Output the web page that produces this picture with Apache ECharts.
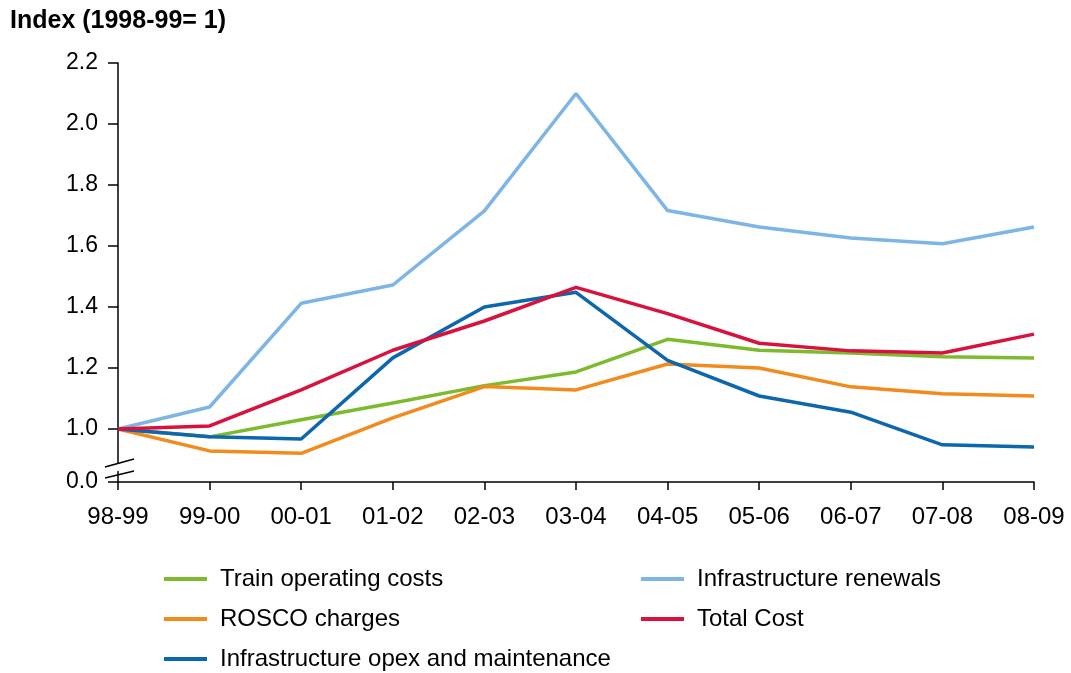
<!DOCTYPE html>
<html>
<head>
<meta charset="utf-8">
<script src="https://cdn.jsdelivr.net/npm/echarts@6/dist/echarts.min.js"></script>
<style>
  html, body { margin: 0; padding: 0; background: #fff; }
  #chart { width: 1071px; height: 673px; }
</style>
</head>
<body>
<div id="chart"></div>
<script>
// Financial years (x axis)
const years = ['98-99', '99-00', '00-01', '01-02', '02-03', '03-04', '04-05', '05-06', '06-07', '07-08', '08-09'];

// Cost indices, 1998-99 = 1
const trainOperating = [1.0, 0.974, 1.03, 1.085, 1.142, 1.187, 1.294, 1.258, 1.249, 1.237, 1.233];
const infraRenewals  = [1.0, 1.072, 1.412, 1.472, 1.715, 2.1, 1.716, 1.662, 1.626, 1.607, 1.662];
const roscoCharges   = [1.0, 0.928, 0.92, 1.036, 1.139, 1.128, 1.213, 1.2, 1.138, 1.115, 1.108];
const totalCost      = [1.0, 1.01, 1.128, 1.258, 1.354, 1.464, 1.378, 1.281, 1.256, 1.249, 1.311];
const infraOpex      = [1.0, 0.974, 0.967, 1.233, 1.4, 1.448, 1.225, 1.108, 1.055, 0.948, 0.941];

// Y axis: the scale is broken below 1.0, so the bottom of the axis stands for 0.0
const yBottom = 0.826;
const yTickValues = [yBottom, 1.0, 1.2, 1.4, 1.6, 1.8, 2.0, 2.2];

const font = 'Liberation Sans, Arial, sans-serif';

const seriesNames = {
  train: 'Train operating costs',
  renewals: 'Infrastructure renewals',
  rosco: 'ROSCO charges',
  total: 'Total Cost',
  opex: 'Infrastructure opex and maintenance'
};

const chart = echarts.init(document.getElementById('chart'));

function lineSeries(name, data, color) {
  return {
    name: name,
    type: 'line',
    data: data,
    symbol: 'none',
    lineStyle: { color: color, width: 3.5 },
    itemStyle: { color: color },
    emphasis: { disabled: true }
  };
}

// One legend block per entry, laid out in two columns
function legendItem(name, left, top) {
  return {
    left: left,
    top: top,
    padding: 0,
    itemWidth: 43,
    itemHeight: 4,
    icon: 'rect',
    selectedMode: false,
    textStyle: { fontFamily: font, fontSize: 24, color: '#000', padding: [0, 0, 0, 8] },
    data: [name]
  };
}

const option = {
  animation: false,
  backgroundColor: '#fff',
  textStyle: { fontFamily: font },
  title: {
    text: 'Index (1998-99= 1)',
    left: 10,
    top: 9,
    padding: 0,
    textStyle: { fontFamily: font, fontSize: 25, fontWeight: 'bold', color: '#000' }
  },
  grid: { left: 118, right: 37, top: 63, bottom: 191 },
  xAxis: {
    type: 'category',
    data: years,
    boundaryGap: false,
    axisLine: { lineStyle: { color: '#000', width: 1.5 } },
    axisTick: { alignWithLabel: true, length: 8, lineStyle: { color: '#000', width: 1.5 } },
    axisLabel: { color: '#000', fontSize: 24, fontFamily: font, margin: 23 },
    splitLine: { show: false }
  },
  yAxis: {
    type: 'value',
    min: yBottom,
    max: 2.2,
    axisLine: { show: true, lineStyle: { color: '#000', width: 1.5 } },
    axisTick: { show: true, length: 10, customValues: yTickValues, lineStyle: { color: '#000', width: 1.5 } },
    axisLabel: {
      color: '#000', fontSize: 23, fontFamily: font, margin: 20,
      customValues: yTickValues,
      formatter: function (v) { return v < 0.9 ? '0.0' : v.toFixed(1); }
    },
    splitLine: { show: false }
  },
  legend: [
    legendItem(seriesNames.train, 164, 567),
    legendItem(seriesNames.rosco, 164, 607),
    legendItem(seriesNames.opex, 164, 647),
    legendItem(seriesNames.renewals, 641, 567),
    legendItem(seriesNames.total, 641, 607)
  ],
  series: [
    lineSeries(seriesNames.renewals, infraRenewals, '#7db5e5'),
    lineSeries(seriesNames.train, trainOperating, '#7cba2e'),
    lineSeries(seriesNames.rosco, roscoCharges, '#f28b1d'),
    lineSeries(seriesNames.opex, infraOpex, '#0c67ad'),
    lineSeries(seriesNames.total, totalCost, '#d8123c')
  ]
};

chart.setOption(option);

// Axis-break marks: two short slashes across the y axis with a gap between them
const origin = chart.convertToPixel({ gridIndex: 0 }, [0, yBottom]);
const ax = origin[0];
const ay = origin[1];
chart.setOption({
  graphic: [
    {
      type: 'polygon',
      shape: { points: [[ax - 3, ay - 10], [ax + 3, ay - 12], [ax + 3, ay - 20], [ax - 3, ay - 18]] },
      style: { fill: '#fff' },
      z: 100
    },
    {
      type: 'line',
      shape: { x1: ax - 13, y1: ay - 15, x2: ax + 16, y2: ay - 23 },
      style: { stroke: '#000', lineWidth: 1.5 },
      z: 101
    },
    {
      type: 'line',
      shape: { x1: ax - 13, y1: ay - 4, x2: ax + 16, y2: ay - 11 },
      style: { stroke: '#000', lineWidth: 1.5 },
      z: 101
    }
  ]
});
</script>
</body>
</html>
